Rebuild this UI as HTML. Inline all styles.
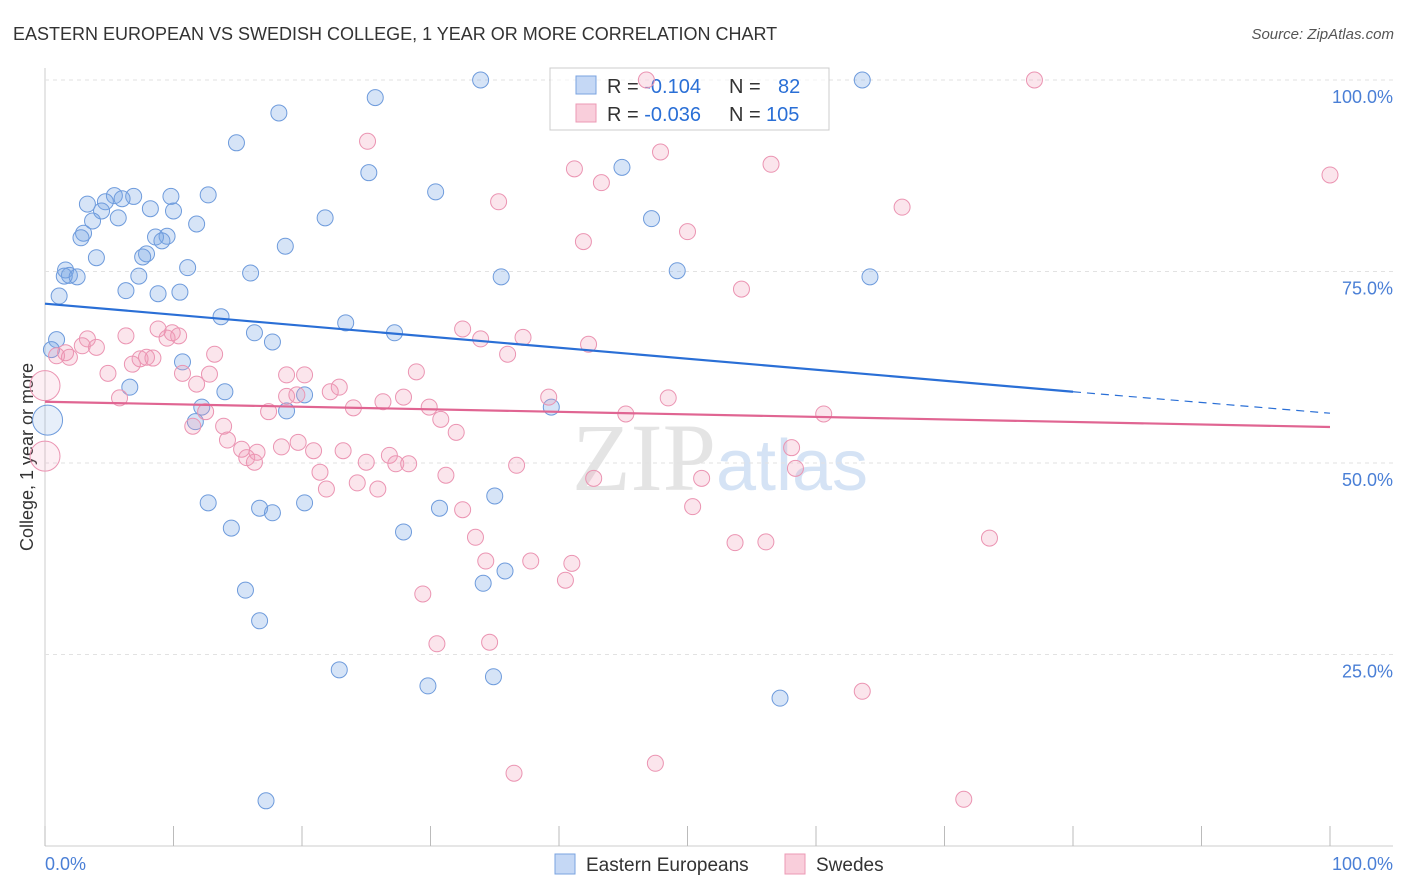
<!DOCTYPE html>
<html><head><meta charset="utf-8"><style>
body{margin:0;background:#fff;font-family:"Liberation Sans",sans-serif}
</style></head><body>
<svg id="chart" width="1406" height="892" xmlns="http://www.w3.org/2000/svg" style="display:block">
<text x="13" y="40" font-size="18" fill="#333">EASTERN EUROPEAN VS SWEDISH COLLEGE, 1 YEAR OR MORE CORRELATION CHART</text>
<text x="1394" y="39" font-size="15" fill="#555" text-anchor="end" font-style="italic">Source: ZipAtlas.com</text>
<text x="720" y="490" font-size="96" fill="#e4e4e4" text-anchor="middle" font-family="Liberation Serif">ZIP<tspan fill="#d5e3f5" font-family="Liberation Sans" font-size="72">atlas</tspan></text>
<text transform="translate(33,457) rotate(-90)" font-size="18" fill="#333" text-anchor="middle">College, 1 year or more</text>
<g id="grid"></g>
<g>
<rect x="550" y="68" width="279" height="62" fill="rgba(255,255,255,0.6)" stroke="#ccc"/>
<rect x="576" y="76" width="20" height="18" fill="#c5d8f5" stroke="#7aa3e0"/>
<rect x="576" y="104" width="20" height="18" fill="#f9cedb" stroke="#ec9ab4"/>
<text x="607" y="93" font-size="20" fill="#333">R = <tspan fill="#2a6fd6">-0.104</tspan><tspan x="729">N = </tspan><tspan x="778" fill="#2a6fd6">82</tspan></text>
<text x="607" y="121" font-size="20" fill="#333">R = <tspan fill="#2a6fd6">-0.036</tspan><tspan x="729">N = </tspan><tspan x="766" fill="#2a6fd6">105</tspan></text>
</g>
<g id="pts"></g><g id="lines"></g>
<g>
<rect x="555" y="854" width="20" height="20" fill="#c5d8f5" stroke="#7aa3e0"/>
<text x="586" y="871" font-size="19" fill="#333">Eastern Europeans</text>
<rect x="785" y="854" width="20" height="20" fill="#f9cedb" stroke="#ec9ab4"/>
<text x="816" y="871" font-size="19" fill="#333">Swedes</text>
</g>
</svg>
<script>
const yTicks=[25,50,75,100];
const xTickLabels=["0.0%","100.0%"];
const blueX=[33.9,63.6,25.7,18.2,14.9,25.2,44.9,30.4,12.7,5.4,6.9,6.0,3.3,4.7,9.8,8.2,10.0,4.4,5.7,3.7,11.8,21.8,47.2,3.0,2.8,9.5,8.6,9.1,18.7,7.9,7.6,4.0,11.1,1.6,1.9,1.5,2.5,7.3,16.0,35.5,49.2,64.2,6.3,8.8,10.5,1.1,13.7,23.4,16.3,27.2,17.7,0.9,0.5,10.7,6.6,14.0,20.2,12.2,18.8,39.4,11.7,12.7,14.5,16.7,17.7,20.2,30.7,35.0,27.9,15.6,16.7,35.8,34.1,22.9,29.8,34.9,57.2,17.2,0.2];
const blueY=[100,100,97.7,95.7,91.8,87.9,88.6,85.4,85.0,84.9,84.8,84.5,83.8,84.1,84.8,83.2,82.9,82.9,82.0,81.6,81.2,82.0,81.9,80.0,79.4,79.6,79.5,79.0,78.3,77.3,76.9,76.8,75.5,75.2,74.5,74.4,74.3,74.4,74.8,74.3,75.1,74.3,72.5,72.1,72.3,71.8,69.1,68.3,67.0,67.0,65.8,66.1,64.8,63.2,59.9,59.3,58.9,57.3,56.8,57.3,55.4,44.8,41.5,44.1,43.5,44.8,44.1,45.7,41.0,33.4,29.4,35.9,34.3,23.0,20.9,22.1,19.3,5.9,55.6];
const pinkX=[46.8,77.0,25.1,47.9,41.2,56.5,43.3,35.3,66.7,100,41.9,50.0,54.2,3.3,6.3,1.6,4.0,2.9,1.9,0.9,4.9,5.8,6.8,7.4,7.9,8.4,8.8,9.5,9.9,10.4,10.7,11.8,12.5,13.2,12.8,11.5,13.9,14.2,15.3,15.7,16.3,16.5,17.4,18.4,18.8,18.8,19.6,20.2,19.7,20.9,21.4,21.9,22.2,22.9,23.2,24.0,24.3,25.0,25.9,26.3,26.8,27.3,27.9,28.3,28.9,29.4,29.9,30.8,31.2,30.5,32.0,32.5,32.5,33.5,33.9,34.3,34.6,36.0,36.7,36.5,37.2,37.8,39.2,40.5,41.0,42.3,42.7,45.2,47.5,48.5,50.4,51.1,53.7,56.1,58.1,58.4,60.6,63.6,71.5,73.5,0,0];
const pinkY=[100,100,92.0,90.6,88.4,89.0,86.6,84.1,83.4,87.6,78.9,80.2,72.7,66.2,66.6,64.4,65.1,65.3,63.8,64.0,61.7,58.5,62.9,63.6,63.8,63.7,67.5,66.3,67.0,66.6,61.7,60.3,56.7,64.2,61.6,54.8,54.8,53.0,51.8,50.7,50.1,51.4,56.7,52.1,58.7,61.5,58.9,61.5,52.7,51.6,48.8,46.6,59.3,59.9,51.6,57.2,47.4,50.1,46.6,58.0,51.0,49.9,58.6,49.9,61.9,32.9,57.3,55.7,48.4,26.4,54.0,67.5,43.9,40.3,66.2,37.2,26.6,64.2,49.7,9.5,66.4,37.2,58.6,34.7,36.9,65.5,48.0,56.4,10.8,58.5,44.3,48.0,39.6,39.7,52.0,49.3,56.4,20.2,6.1,40.2,60.1,50.9];
const blueTrend=[70.8,59.3,56.5]; // at x=0, 80, 100
const pinkTrend=[58.0,54.7]; // at x=0, 100
const X=v=>45+v*12.85, Y=v=>846-v*7.66;
const NS="http://www.w3.org/2000/svg";
function mk(t,a,p){const e=document.createElementNS(NS,t);for(const k in a)e.setAttribute(k,a[k]);p.appendChild(e);return e;}
const grid=document.getElementById('grid');
mk('line',{x1:45,y1:68,x2:45,y2:846,stroke:'#ccc'},grid);
mk('line',{x1:45,y1:846,x2:1393,y2:846,stroke:'#ccc'},grid);
yTicks.forEach(t=>{
 const l=mk('line',{x1:45,y1:Y(t),x2:1393,y2:Y(t),stroke:'#e2e2e2','stroke-dasharray':'4,4'},grid);
 
 
 const tx=mk('text',{x:1393,y:Y(t)+23,'font-size':18,fill:'#4a7fd6','text-anchor':'end'},grid);
 tx.textContent=t.toFixed(1)+'%';
 
 
});
for(let i=0;i<=10;i++){const tk=mk('line',{x1:X(i*10),y1:826,x2:X(i*10),y2:846,stroke:'#bbb'},grid);
 
 }
[[0,'start'],[100,'end']].forEach((d,i)=>{const tx=mk('text',{x:i?1393:45,y:870,'font-size':18,fill:'#4a7fd6','text-anchor':d[1]},grid);
 tx.textContent=xTickLabels[i];
 
 });
const pts=document.getElementById('pts');
function draw(xs,ys,fill,stroke,name){xs.forEach((x,i)=>{
 const big=(x<=0.2&&(ys[i]>50&&ys[i]<61));
 const c=mk('circle',{cx:X(x),cy:Y(ys[i]),r:big?15:8,fill:fill,stroke:stroke,'stroke-width':1,'fill-opacity':big?0.6:1},pts);
 
 });}
draw(blueX,blueY,'rgba(120,165,230,0.3)','#6e9bdc','eastern-european-point');
draw(pinkX,pinkY,'rgba(240,150,180,0.25)','#eb94b2','swede-point');
const lines=document.getElementById('lines');
let l=mk('line',{x1:X(0),y1:Y(blueTrend[0]),x2:X(80),y2:Y(blueTrend[1]),stroke:'#2a6fd6','stroke-width':2.2},lines);


l=mk('line',{x1:X(80),y1:Y(blueTrend[1]),x2:X(100),y2:Y(blueTrend[2]),stroke:'#2a6fd6','stroke-width':1.2,'stroke-dasharray':'8,6'},lines);


l=mk('line',{x1:X(0),y1:Y(pinkTrend[0]),x2:X(100),y2:Y(pinkTrend[1]),stroke:'#e06592','stroke-width':2.2},lines);


</script>
</body></html>
